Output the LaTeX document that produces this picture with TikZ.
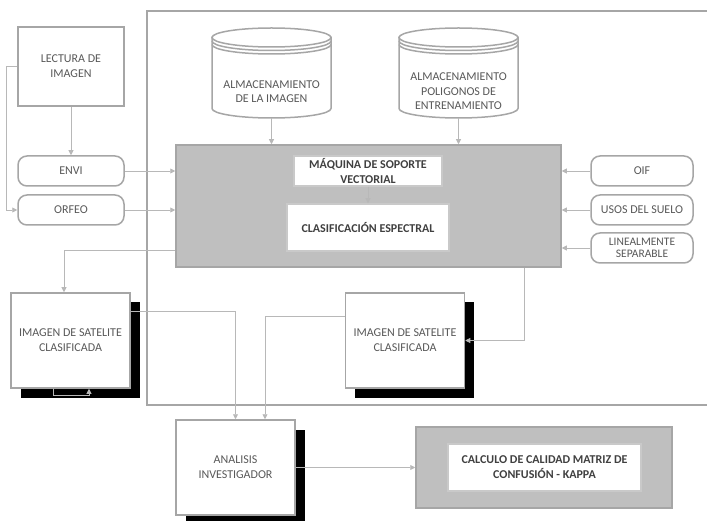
\documentclass[tikz,border=0pt]{standalone}
\usepackage{fontspec}
\setmainfont{Carlito}[Contextuals=NoAlternate]
\usepackage{xcolor}
\colorlet{colorBorder}{black!35}
\colorlet{colorFill}{black!25}
\colorlet{colorText}{black!65}
\colorlet{colorBold}{black!75}
\colorlet{colorLink}{black!28}
\usetikzlibrary{arrows.meta, positioning, shadows}
\tikzset{
  block/.style={draw=colorBorder, line width=1.5pt, fill=white, text=colorText, align=center, inner sep=0pt, font=\fontsize{12}{15}\selectfont},
  option/.style={block, rounded corners=9pt, minimum width=106pt, minimum height=30pt},
  result/.style={block, minimum width=119pt, minimum height=95pt, drop shadow={shadow xshift=9.5pt, shadow yshift=-9.5pt, fill=black, opacity=1}},
  process/.style={draw=colorBorder, line width=1.5pt, fill=colorFill},
  inner/.style={block, draw=colorBorder!60, text=colorBold, font=\fontsize{12}{15}\selectfont\bfseries},
  drumtext/.style={text=colorText, align=center, inner sep=0pt, minimum height=53pt, font=\fontsize{12}{14.5}\selectfont},
  drum/.pic={
    \path[draw=colorBorder, line width=1.5pt, fill=white] (-59.5,-35.5) -- (-59.5,35.5) arc[start angle=180, end angle=0, x radius=59.5, y radius=9.5] -- (59.5,-35.5) -- cycle;
    \path[draw=colorBorder, line width=1.5pt, fill=white] (0,-35.5) ellipse[x radius=59.5, y radius=9.5];
    \draw[colorBorder, line width=1.5pt] (-59.5,-32) arc[start angle=180, end angle=0, x radius=59.5, y radius=9.5];
    \draw[colorBorder, line width=1.5pt] (-59.5,-28.5) arc[start angle=180, end angle=0, x radius=59.5, y radius=9.5];
  }
}

\begin{document}
\begin{tikzpicture}[x=1pt, y=-1pt, >={Triangle[length=5pt, width=5pt]}, link/.style={->, draw=colorLink, line width=0.9pt}]
\useasboundingbox (0,0) rectangle (707,521);
% marco del proceso
\draw[colorBorder, line width=1.5pt] (712,11) -- (147,11) -- (147,405) -- (712,405);

\node[block, minimum width=106pt, minimum height=79pt] (lectura) at (71,66.5) {LECTURA DE\\IMAGEN};
\node[option] (envi) at (71,171) {ENVI};
\node[option] (orfeo) at (71,210) {ORFEO};

\pic at (271.5,73) {drum};
\node[drumtext] (store1) at (271.5,91.5) {ALMACENAMIENTO\\DE LA IMAGEN};
\pic at (458.5,73) {drum};
\node[drumtext] (store2) at (458.5,91.5) {ALMACENAMIENTO\\POLIGONOS DE\\ENTRENAMIENTO};

\node[process, minimum width=385pt, minimum height=122pt] (svm) at (368.5,206) {};
\node[inner, minimum width=148pt, minimum height=30pt] (maquina) at (368,171) {MÁQUINA DE SOPORTE\\VECTORIAL};
\node[inner, minimum width=162pt, minimum height=47pt] (espectral) at (368,227.5) {CLASIFICACIÓN ESPECTRAL};

\node[option, minimum width=102pt] (oif) at (642,171) {OIF};
\node[option, minimum width=102pt] (usos) at (642,210) {USOS DEL SUELO};
\node[option, minimum width=102pt, font=\fontsize{11.5}{12}\selectfont] (lineal) at (642,248) {LINEALMENTE\\SEPARABLE};

\node[result] (imgL) at (70.5,340.5) {IMAGEN DE SATELITE\\CLASIFICADA};
\node[result] (imgR) at (405,340.5) {IMAGEN DE SATELITE\\CLASIFICADA};
\node[result] (analisis) at (235.5,467.5) {ANALISIS\\INVESTIGADOR};

\node[process, minimum width=256pt, minimum height=81pt] (kappa) at (544,467.5) {};
\node[inner, minimum width=193pt, minimum height=47pt] (matriz) at (544.5,467.5) {CALCULO DE CALIDAD MATRIZ DE\\CONFUSIÓN - KAPPA};

% conexiones
\draw[link] (lectura) -- (envi);
\draw[link] (lectura.west) -- ++(-11,0) |- (orfeo.west);
\draw[link] (envi.east) -- (envi.east -| svm.west);
\draw[link] (orfeo.east) -- (orfeo.east -| svm.west);
\draw[link] (oif.west) -- (oif.west -| svm.east);
\draw[link] (usos.west) -- (usos.west -| svm.east);
\draw[link] (lineal.west) -- (lineal.west -| svm.east);
\draw[link] (store1.south) -- (store1.south |- svm.north);
\draw[link] (store2.south) -- (store2.south |- svm.north);
\draw[link] (maquina) -- (espectral);
\draw[link] ([yshift=17pt]svm.south west) -| ([xshift=-6.5pt]imgL.north);
\draw[link] ([xshift=-37pt]svm.south east) |- (imgR.east);
\draw[link] ([xshift=-17.5pt]imgL.south) -- ++(0,7) -| ([xshift=18.5pt]imgL.south);
\draw[link] ([yshift=-19pt]imgL.north east) -| (analisis.north);
\draw[link] ([yshift=-24pt]imgR.north west) -| ([xshift=29.5pt]analisis.north);
\draw[link] (analisis) -- (kappa);
\end{tikzpicture}
\end{document}
